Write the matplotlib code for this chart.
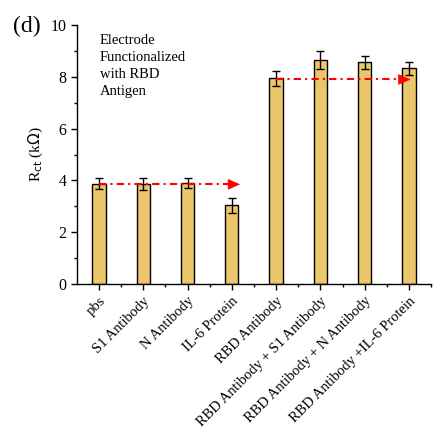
import numpy as np
import matplotlib.pyplot as plt
from matplotlib.ticker import MultipleLocator

labels = ["pbs", "S1 Antibody", "N Antibody", "IL-6 Protein", "RBD Antibody",
          "RBD Antibody + S1 Antibody", "RBD Antibody + N Antibody",
          "RBD Antibody +IL-6 Protein"]
rct = [3.88, 3.88, 3.90, 3.04, 7.94, 8.66, 8.56, 8.33]
err = [0.2, 0.23, 0.2, 0.3, 0.3, 0.35, 0.25, 0.25]

# reference arrows: (x start, x end, level)
arrow_left = (0.0, 3.25, 3.85)
arrow_right = (4.0, 7.1, 7.9)

plt.rcParams['font.family'] = ['Liberation Serif']

fig = plt.figure(figsize=(4.44, 4.41), dpi=100)
ax = fig.add_axes([0.173, 0.356, 0.798, 0.587])

x = np.arange(len(labels))
ax.bar(x, rct, width=0.3, color='#ECC66A', edgecolor='black', linewidth=1.0,
       yerr=err, capsize=3, error_kw=dict(elinewidth=1.0, capthick=1.0, ecolor='black'))

for x0, x1, lvl in [arrow_left, arrow_right]:
    ax.plot([x0, x1 - 0.2], [lvl, lvl], color='red', linestyle=(0, (3.5, 2, 1, 2)),
            linewidth=1.5, zorder=5)
    ax.annotate('', xy=(x1, lvl), xytext=(x1 - 0.25, lvl),
                arrowprops=dict(arrowstyle='-|>,head_length=0.8,head_width=0.35',
                                color='red', lw=0.5), zorder=6)

ax.set_xlim(-0.5, 7.5)
ax.set_ylim(0, 10)
ax.set_xticks(x)
ax.set_xticklabels(labels, rotation=45, ha='right', rotation_mode='anchor', fontsize=10.5)
ax.set_xticks(x + 0.5, minor=True)
ax.yaxis.set_major_locator(MultipleLocator(2))
ax.yaxis.set_minor_locator(MultipleLocator(1))
ax.tick_params(axis='y', labelsize=11.5)
ax.tick_params(which='major', length=4, width=1)
ax.tick_params(which='minor', length=2.5, width=1)
ax.spines['top'].set_visible(False)
ax.spines['right'].set_visible(False)
for s in ['left', 'bottom']:
    ax.spines[s].set_linewidth(1.0)

ax.set_ylabel(r'R$_{\rm ct}$ (k$\Omega$)', fontsize=11)
ax.text(0.065, 0.965, "Electrode\nFunctionalized\nwith RBD\nAntigen", transform=ax.transAxes,
        fontsize=10.5, va='top', ha='left', linespacing=1.4)
fig.text(0.03, 0.965, "(d)", fontsize=17, va='top', ha='left')

fig.savefig('out.png', dpi=100)
